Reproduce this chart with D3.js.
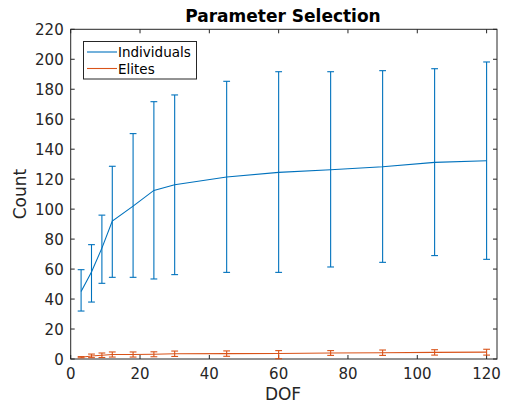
<!DOCTYPE html>
<html><head><meta charset="utf-8">
<script src="https://cdn.jsdelivr.net/npm/d3@7"></script>
<style>body{margin:0;background:#fff;}svg{display:block;}</style>
</head><body><svg id="c" width="505" height="404"></svg>
<script>
const dof = [3,6,9,12,18,24,30,45,60,75,90,105,120];
const indMean = [45,58,74,92,102,112.5,116.3,121.4,124.5,126.3,128.3,131.2,132.3];
const indLow  = [32,38,50.5,54.5,54.5,53.4,56.3,57.8,57.8,61.4,64.5,69,66.5];
const indHigh = [59.6,76.3,96,128.6,150.4,171.7,176.2,185.3,191.7,191.7,192.4,193.7,198.2];
const eliMean = [1.2,2,2.5,3,3,3.2,3.5,3.6,3.7,4,4.2,4.4,4.6];
const eliLow  = [0.8,0.9,1.0,1.3,1.3,1.5,1.7,1.8,0.2,2.4,2.4,2.6,2.6];
const eliHigh = [1.6,3.3,4.0,4.7,4.7,4.8,5.3,5.4,5.6,5.6,6.0,6.2,6.5];
const xTicks = [0,20,40,60,80,100,120];
const yTicks = [0,20,40,60,80,100,120,140,160,180,200,220];
const seriesNames = ["Individuals","Elites"];
const colors = ["#0072BD","#D95319"];

const svg = d3.select("#c");
const L=70.7, R=497, T=29.3, B=359;
const x = d3.scaleLinear().domain([0,123]).range([L,R]);
const y = d3.scaleLinear().domain([0,220]).range([B,T]);
const font = "'DejaVu Sans', sans-serif";
const axCol = "#262626";

svg.append("rect").attr("x",L).attr("y",T).attr("width",R-L).attr("height",B-T)
  .attr("fill","none").attr("stroke",axCol).attr("stroke-width",1);

const tl = 4;
xTicks.forEach(t=>{
  svg.append("line").attr("x1",x(t)).attr("x2",x(t)).attr("y1",B).attr("y2",B-tl).attr("stroke",axCol);
  svg.append("line").attr("x1",x(t)).attr("x2",x(t)).attr("y1",T).attr("y2",T+tl).attr("stroke",axCol);
  svg.append("text").attr("x",x(t)).attr("y",379).attr("text-anchor","middle")
    .attr("font-family",font).attr("font-size",15).attr("fill",axCol).text(t);
});
yTicks.forEach(t=>{
  svg.append("line").attr("x1",L).attr("x2",L+tl).attr("y1",y(t)).attr("y2",y(t)).attr("stroke",axCol);
  svg.append("line").attr("x1",R).attr("x2",R-tl).attr("y1",y(t)).attr("y2",y(t)).attr("stroke",axCol);
  svg.append("text").attr("x",L-7).attr("y",y(t)+5.8).attr("text-anchor","end")
    .attr("font-family",font).attr("font-size",15).attr("fill",axCol).text(t);
});

svg.append("text").attr("x",283).attr("y",22).attr("text-anchor","middle")
  .attr("font-family",font).attr("font-size",17).attr("font-weight","bold").attr("fill","#000").text("Parameter Selection");
svg.append("text").attr("x",283).attr("y",400).attr("text-anchor","middle")
  .attr("font-family",font).attr("font-size",17).attr("fill",axCol).text("DOF");
svg.append("text").attr("transform",`translate(26,194) rotate(-90)`).attr("text-anchor","middle")
  .attr("font-family",font).attr("font-size",17).attr("fill",axCol).text("Count");

function drawSeries(mean, low, high, col){
  const g = svg.append("g");
  const line = d3.line().x((d,i)=>x(dof[i])).y(d=>y(d));
  g.append("path").attr("d",line(mean)).attr("fill","none").attr("stroke",col).attr("stroke-width",1.1);
  dof.forEach((d,i)=>{
    const cx=x(d), cw=3.4;
    g.append("line").attr("x1",cx).attr("x2",cx).attr("y1",y(low[i])).attr("y2",y(high[i])).attr("stroke",col).attr("stroke-width",1.1);
    g.append("line").attr("x1",cx-cw).attr("x2",cx+cw).attr("y1",y(low[i])).attr("y2",y(low[i])).attr("stroke",col).attr("stroke-width",1.1);
    g.append("line").attr("x1",cx-cw).attr("x2",cx+cw).attr("y1",y(high[i])).attr("y2",y(high[i])).attr("stroke",col).attr("stroke-width",1.1);
  });
}
drawSeries(indMean, indLow, indHigh, colors[0]);
drawSeries(eliMean, eliLow, eliHigh, colors[1]);

const lg = svg.append("g");
lg.append("rect").attr("x",83.5).attr("y",41.5).attr("width",113).attr("height",37.5)
  .attr("fill","#fff").attr("stroke",axCol).attr("stroke-width",1);
seriesNames.forEach((n,i)=>{
  const yy = 52 + i*16.5;
  lg.append("line").attr("x1",87).attr("x2",117).attr("y1",yy).attr("y2",yy).attr("stroke",colors[i]).attr("stroke-width",1.1);
  lg.append("text").attr("x",118).attr("y",yy+5).attr("font-family",font).attr("font-size",13.5).attr("fill","#000").text(n);
});
</script></body></html>
